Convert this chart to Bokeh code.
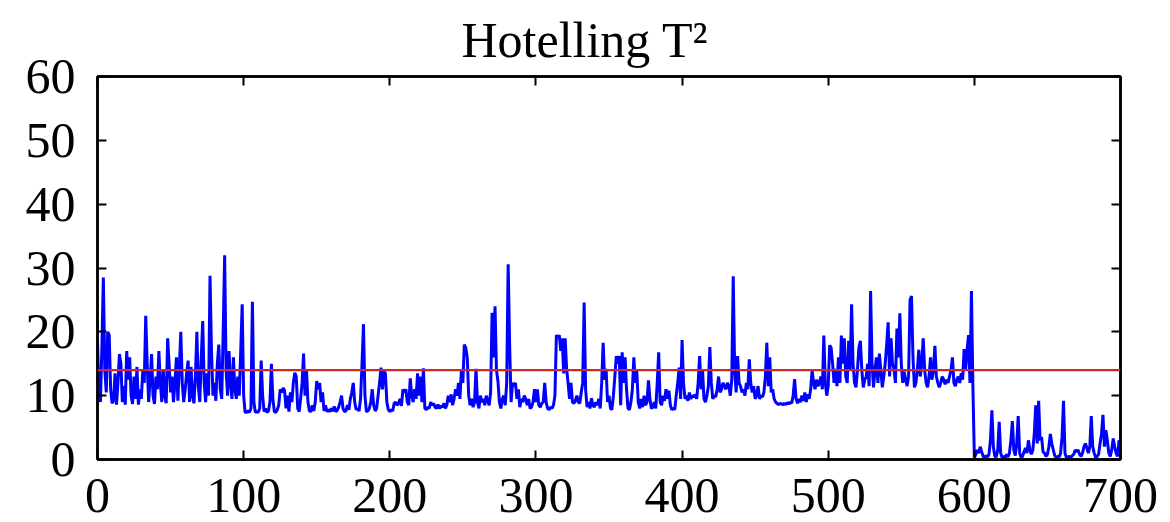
from bokeh.plotting import figure
from bokeh.models import Range1d, LinearAxis, Span, FixedTicker
from bokeh.embed import file_html
from bokeh.resources import INLINE

title_text = "Hotelling T\u00b2"
threshold = 14.0
x_ticks = [0, 100, 200, 300, 400, 500, 600, 700]
y_ticks = [0, 10, 20, 30, 40, 50, 60]

t2_values = [
    18.5, 10.2, 9.0, 17.5, 28.5, 14.0, 10.5, 20.0, 19.5, 11.0,
    8.8, 9.2, 13.5, 8.6, 12.0, 16.5, 15.0, 9.0, 11.5, 8.6,
    17.0, 12.5, 16.0, 10.0, 8.7, 13.0, 9.5, 14.5, 8.6, 11.0,
    9.5, 14.0, 12.0, 22.5, 15.0, 9.0, 12.5, 16.5, 10.0, 8.7,
    13.0, 11.0, 17.0, 12.0, 9.0, 14.0, 10.0, 8.8, 19.0, 15.0,
    10.5, 13.0, 9.0, 12.0, 16.0, 9.2, 14.5, 20.0, 12.0, 9.0,
    11.0, 13.5, 15.5, 9.0, 14.5, 10.0, 8.8, 13.0, 20.0, 11.5,
    9.0, 16.0, 21.7, 12.0, 9.0, 13.5, 10.0, 28.8, 17.0, 10.0,
    12.0, 9.2, 15.0, 18.0, 11.0, 9.5, 20.0, 32.0, 14.0, 10.0,
    17.0, 12.0, 9.5, 16.0, 11.0, 9.5, 13.0, 10.0, 17.0, 24.3,
    10.0, 7.4, 7.4, 7.6, 7.4, 8.0, 24.7, 9.0, 7.4, 7.5,
    7.4, 8.0, 15.5, 10.0, 7.5, 8.0, 7.4, 7.6, 9.0, 15.0,
    9.5, 7.5, 7.4, 7.8, 8.5, 11.0, 10.5, 11.2, 10.8, 8.0,
    10.0, 7.5, 10.5, 9.0, 12.0, 13.6, 13.0, 8.0, 7.5, 9.5,
    12.0, 16.6, 10.0, 14.0, 9.0, 7.6, 7.5, 8.5, 7.6, 9.0,
    12.3, 11.0, 12.0, 9.0, 10.5, 7.6, 8.5, 7.5, 7.8, 7.5,
    8.0, 7.6, 8.3, 7.5, 7.7, 8.2, 9.0, 10.0, 8.0, 7.5,
    7.6, 8.5, 7.8, 9.5, 10.5, 12.0, 9.0, 7.8, 8.0, 7.6,
    9.5, 15.0, 21.2, 10.0, 7.5, 7.6, 8.0, 9.0, 11.0, 8.5,
    7.6, 8.0, 10.0, 12.0, 14.4, 11.0, 13.8, 13.5, 9.0, 7.8,
    7.5, 7.8, 7.6, 8.8, 9.0, 8.5, 8.8, 9.5, 8.4, 11.0,
    10.5, 11.0, 9.0, 8.5, 12.7, 10.0, 9.0, 11.0, 9.5, 13.5,
    10.0, 13.0, 9.0, 14.3, 8.0, 7.8, 8.2, 8.0, 9.0, 8.5,
    8.8, 8.2, 8.0, 8.6, 8.0, 8.4, 8.2, 8.8, 8.0, 8.5,
    10.0, 9.0, 10.2, 8.5, 9.5, 11.0, 10.0, 12.0, 9.5, 14.0,
    12.0, 18.0, 17.5, 16.0, 10.0, 8.5, 9.5, 8.2, 9.0, 14.2,
    9.0, 8.0, 10.0, 9.0, 9.5, 8.5, 10.0, 9.2, 8.5, 10.5,
    23.0, 16.0, 24.0, 14.0, 12.3, 9.0, 8.0, 9.5, 10.0, 8.5,
    12.0, 30.6, 18.0, 9.0, 12.0, 11.5, 12.0, 9.5, 11.0, 8.2,
    9.5, 9.0, 10.0, 9.5, 8.5, 9.5, 8.0, 8.2, 9.0, 11.0,
    9.0, 11.0, 8.5, 8.2, 8.8, 9.0, 12.0, 9.0, 8.0, 7.8,
    8.2, 8.0, 8.5, 10.0, 19.5, 19.0, 19.5, 17.0, 19.0, 13.5,
    19.0, 14.2, 12.0, 9.5, 12.0, 9.0, 8.8, 9.2, 10.0, 9.0,
    8.8, 10.5, 12.0, 24.6, 11.0, 8.2, 9.0, 8.0, 9.6, 8.5,
    8.2, 9.0, 8.5, 9.5, 8.0, 12.0, 18.3, 12.5, 14.2, 9.0,
    10.0, 8.0, 7.8, 10.0, 13.0, 16.2, 15.0, 16.2, 8.5, 16.8,
    12.0, 16.0, 11.0, 8.0, 7.8, 9.0, 11.0, 16.0, 12.0, 14.0,
    9.0, 8.0, 9.5, 8.2, 10.0, 8.5, 9.0, 12.4, 9.5, 8.0,
    8.2, 9.0, 8.0, 12.0, 16.8, 9.0, 8.5, 10.0, 9.2, 11.0,
    9.5, 10.8, 8.5, 7.8, 8.0, 7.8, 10.0, 12.0, 14.4, 9.5,
    18.7, 12.0, 9.5, 10.0, 9.2, 10.5, 9.5, 10.0, 9.8, 10.2,
    9.5, 12.0, 16.2, 11.0, 14.0, 9.5, 9.0, 10.0, 11.5, 17.6,
    12.0, 9.5, 10.0, 9.8, 11.0, 13.0, 10.5, 11.0, 12.0, 11.5,
    11.0, 12.0, 11.5, 10.0, 12.5, 28.7, 14.0, 10.5, 16.2, 12.0,
    11.5, 10.5, 11.0, 10.0, 12.0, 11.0, 15.7, 12.0, 10.5, 11.5,
    9.5, 10.0, 11.5, 9.5, 10.0, 9.8, 10.5, 13.0, 18.3, 11.5,
    16.0, 10.5, 11.0, 9.5, 9.0, 8.8, 8.6, 8.8, 8.7, 8.6,
    8.8, 8.6, 8.9, 8.7, 9.0, 8.8, 10.0, 12.6, 9.5, 8.8,
    9.5, 9.0, 10.0, 9.2, 10.5, 9.0, 10.2, 9.5, 11.0, 14.0,
    12.0, 11.0, 12.5, 11.5, 12.0, 13.0, 11.0, 19.4, 12.0, 10.0,
    11.5, 17.9, 17.5, 15.0, 12.0, 14.2, 11.5, 16.0, 12.0, 19.4,
    15.0, 19.0, 13.0, 12.0, 18.6, 14.0, 24.3, 15.0, 12.0, 11.3,
    14.0, 17.5, 18.6, 14.0, 11.3, 12.5, 13.0, 15.0, 11.5, 26.4,
    15.0, 11.3, 14.0, 16.0, 12.0, 16.6, 14.0, 11.3, 13.0, 15.0,
    18.0, 21.5, 13.0, 19.0, 15.0, 14.2, 12.0, 20.5, 16.0, 22.9,
    15.0, 12.0, 13.8, 12.5, 11.5, 13.0, 25.0, 25.6, 16.0, 11.3,
    12.0, 14.0, 17.2, 13.0, 15.0, 19.0, 14.0, 12.0, 11.3, 13.0,
    16.0, 12.5, 14.0, 17.8, 13.0, 12.0, 11.3, 12.0, 13.0, 12.5,
    11.8, 12.5, 12.0, 13.0, 14.0, 16.0, 12.0, 11.5, 12.5, 13.0,
    12.0, 13.5, 12.5, 17.3, 14.0, 17.0, 19.5, 12.0, 26.4, 11.5,
    0.3, 0.8, 1.5, 1.0, 2.0, 1.2, 0.5, 0.3, 0.6, 0.4,
    0.8, 3.0, 7.7, 2.0, 0.5, 0.4, 1.5, 5.9, 1.0, 0.3,
    0.5, 0.3, 0.8, 0.4, 1.0, 3.0, 6.0, 1.5, 0.6, 2.5,
    6.8, 1.0, 0.3, 0.5, 1.2, 1.8, 1.0, 3.0, 1.5, 0.8,
    1.5, 4.0, 8.5, 2.5, 9.2, 3.0, 3.5, 1.2, 1.0, 0.5,
    0.8, 2.0, 4.0, 2.5, 1.5, 0.6, 0.3, 0.5, 0.4, 1.0,
    3.5, 9.2, 1.0, 0.3, 0.4, 0.5, 0.3, 0.6, 0.8, 1.5,
    1.2, 1.5, 0.8, 0.5, 1.0, 2.0, 2.5, 1.8, 1.0, 2.0,
    6.8, 2.0, 1.0, 0.3, 0.5, 0.8, 2.5, 4.0, 7.0, 2.0,
    4.6, 3.0, 1.0, 0.5, 1.5, 3.3, 2.0, 1.0, 0.5, 3.0, 2.5,
]
sample_index = list(range(len(t2_values)))

FONT = "Liberation Serif"

p = figure(
    width=1170, height=522,
    output_backend="svg", toolbar_location=None,
    x_range=Range1d(0, 700), y_range=Range1d(0, 60),
    min_border_left=97, min_border_right=50,
    min_border_top=76, min_border_bottom=63,
    background_fill_color="white", border_fill_color="white",
)

p.title.text = title_text
p.title.text_font = FONT
p.title.text_font_size = "50px"
p.title.text_font_style = "normal"
p.title.align = "left"
p.title.offset = 364
p.title.standoff = 18
p.title.text_color = "black"

p.grid.visible = False
p.outline_line_color = "black"
p.outline_line_width = 2.5
p.outline_line_alpha = 1.0

def style_axis(ax, labels=True):
    ax.axis_line_color = "black"
    ax.axis_line_width = 2.5
    ax.major_tick_in = 9
    ax.major_tick_out = 0
    ax.major_tick_line_width = 2
    ax.major_tick_line_color = "black"
    ax.minor_tick_line_color = None
    ax.major_label_text_font = FONT
    ax.major_label_text_color = "black"
    if labels:
        ax.major_label_text_font_size = "50px"
    else:
        ax.major_label_text_font_size = "0px"
        ax.major_label_text_color = None
        ax.major_label_standoff = 0

p.xaxis.ticker = FixedTicker(ticks=x_ticks)
p.yaxis.ticker = FixedTicker(ticks=y_ticks)
style_axis(p.xaxis[0])
style_axis(p.yaxis[0])
p.xaxis.major_label_standoff = 19
p.yaxis.major_label_standoff = 22

top_ax = LinearAxis(ticker=FixedTicker(ticks=x_ticks))
style_axis(top_ax, labels=False)
p.add_layout(top_ax, "above")
right_ax = LinearAxis(ticker=FixedTicker(ticks=y_ticks))
style_axis(right_ax, labels=False)
p.add_layout(right_ax, "right")

p.line(sample_index, t2_values, line_color="#0000ff", line_width=3.0)

p.add_layout(Span(location=threshold, dimension="width",
                  line_color="#cc2a2a", line_width=2.2))

open("out.html", "w").write(file_html(p, INLINE))
